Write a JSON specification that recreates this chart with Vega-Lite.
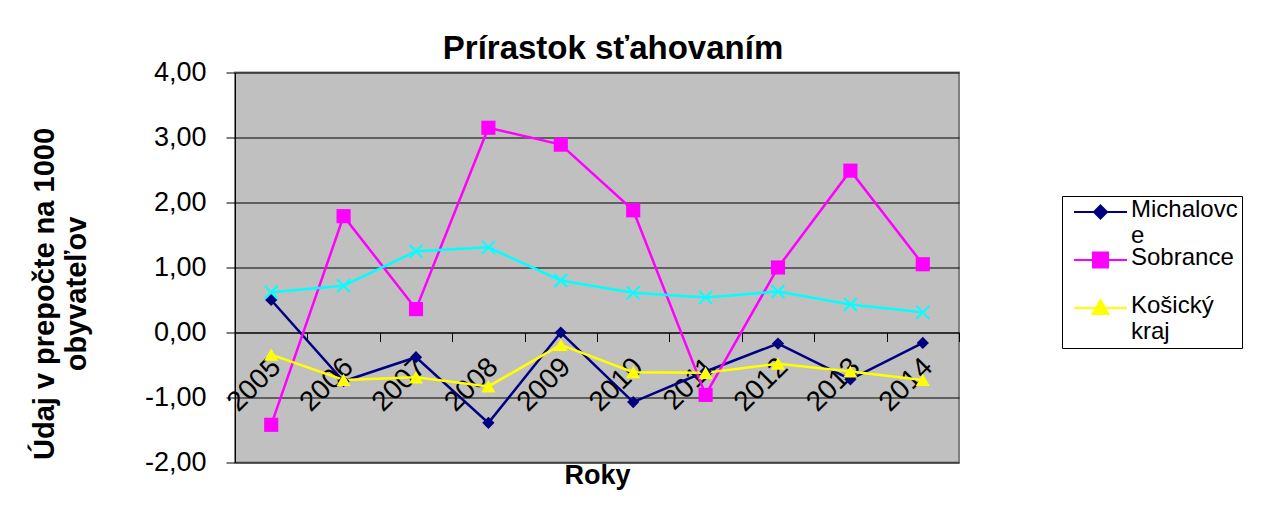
{
  "$schema": "https://vega.github.io/schema/vega-lite/v6.json",
  "width": 724,
  "height": 390,
  "autosize": "none",
  "padding": {"left": 235, "top": 72.5, "right": 307, "bottom": 42.5},
  "background": "white",
  "config": {
    "font": "Liberation Sans",
    "view": {"fill": "#C0C0C0", "stroke": "#808080", "strokeWidth": 2}
  },
  "title": {
    "text": "Prírastok sťahovaním",
    "fontSize": 33,
    "fontWeight": "bold",
    "color": "black",
    "anchor": "middle",
    "baseline": "alphabetic",
    "offset": 13,
    "dx": 16,
    "dy": 46
  },
  "data": {
    "values": [
      {"year": "2005", "series": "Michalovce", "value": 0.50},
      {"year": "2006", "series": "Michalovce", "value": -0.75},
      {"year": "2007", "series": "Michalovce", "value": -0.38},
      {"year": "2008", "series": "Michalovce", "value": -1.39},
      {"year": "2009", "series": "Michalovce", "value": 0.00},
      {"year": "2010", "series": "Michalovce", "value": -1.07},
      {"year": "2011", "series": "Michalovce", "value": -0.60},
      {"year": "2012", "series": "Michalovce", "value": -0.17},
      {"year": "2013", "series": "Michalovce", "value": -0.72},
      {"year": "2014", "series": "Michalovce", "value": -0.16},
      {"year": "2005", "series": "Sobrance", "value": -1.42},
      {"year": "2006", "series": "Sobrance", "value": 1.79},
      {"year": "2007", "series": "Sobrance", "value": 0.36},
      {"year": "2008", "series": "Sobrance", "value": 3.15},
      {"year": "2009", "series": "Sobrance", "value": 2.89},
      {"year": "2010", "series": "Sobrance", "value": 1.88},
      {"year": "2011", "series": "Sobrance", "value": -0.96},
      {"year": "2012", "series": "Sobrance", "value": 1.00},
      {"year": "2013", "series": "Sobrance", "value": 2.49},
      {"year": "2014", "series": "Sobrance", "value": 1.05},
      {"year": "2005", "series": "Košický kraj", "value": -0.34},
      {"year": "2006", "series": "Košický kraj", "value": -0.73},
      {"year": "2007", "series": "Košický kraj", "value": -0.69},
      {"year": "2008", "series": "Košický kraj", "value": -0.83},
      {"year": "2009", "series": "Košický kraj", "value": -0.19},
      {"year": "2010", "series": "Košický kraj", "value": -0.61},
      {"year": "2011", "series": "Košický kraj", "value": -0.62},
      {"year": "2012", "series": "Košický kraj", "value": -0.48},
      {"year": "2013", "series": "Košický kraj", "value": -0.60},
      {"year": "2014", "series": "Košický kraj", "value": -0.73},
      {"year": "2005", "series": "Slovensko", "value": 0.62},
      {"year": "2006", "series": "Slovensko", "value": 0.72},
      {"year": "2007", "series": "Slovensko", "value": 1.25},
      {"year": "2008", "series": "Slovensko", "value": 1.31},
      {"year": "2009", "series": "Slovensko", "value": 0.80},
      {"year": "2010", "series": "Slovensko", "value": 0.61},
      {"year": "2011", "series": "Slovensko", "value": 0.54},
      {"year": "2012", "series": "Slovensko", "value": 0.63},
      {"year": "2013", "series": "Slovensko", "value": 0.43},
      {"year": "2014", "series": "Slovensko", "value": 0.31}
    ]
  },
  "encoding": {
    "x": {
      "field": "year",
      "type": "ordinal",
      "bandPosition": 0.5,
      "scale": {"type": "band", "paddingInner": 0, "paddingOuter": 0},
      "axis": {
        "orient": "bottom",
        "offset": -130,
        "labelAngle": -45,
        "labelAlign": "right",
        "labelBaseline": "middle",
        "labelFontSize": 28,
        "labelColor": "black",
        "labelPadding": 21,
        "labelOffset": 5,
        "labelOverlap": false,
        "tickBand": "extent",
        "tickSize": 9,
        "tickColor": "black",
        "domainColor": "black",
        "domainWidth": 1,
        "grid": false,
        "title": "Roky",
        "titleFontSize": 27,
        "titleFontWeight": "bold",
        "titleColor": "black",
        "titleY": 142.5,
        "titleBaseline": "middle"
      }
    },
    "y": {
      "field": "value",
      "type": "quantitative",
      "scale": {"domain": [-2, 4], "nice": false, "zero": false},
      "axis": {
        "values": [-2, -1, 0, 1, 2, 3, 4],
        "labelExpr": "replace(replace(format(datum.value, '.2f'), '.', ','), '\u2212', '-')",
        "labelFontSize": 27,
        "labelColor": "black",
        "labelPadding": 20,
        "tickSize": 9,
        "tickColor": "black",
        "domainColor": "black",
        "grid": true,
        "gridColor": "black",
        "gridWidth": 1,
        "gridOpacity": 1,
        "title": ["Údaj v prepočte na 1000", "obyvateľov"],
        "titleFontSize": 29,
        "titleFontWeight": "bold",
        "titleColor": "black",
        "titleAngle": -90,
        "titleX": -182,
        "titleY": 221,
        "titleAlign": "center",
        "titleBaseline": "alphabetic",
        "titleLineHeight": 32
      }
    }
  },
  "layer": [
    {
      "mark": {"type": "line", "strokeWidth": 2.5},
      "encoding": {
        "color": {
          "field": "series",
          "type": "nominal",
          "scale": {
            "domain": ["Michalovce", "Sobrance", "Košický kraj", "Slovensko"],
            "range": ["#000080", "#FF00FF", "#FFFF00", "#00FFFF"]
          },
          "legend": {
            "orient": "none",
            "legendX": 827,
            "legendY": 123.5,
            "values": ["Michalovce", "Sobrance", "Košický kraj"],
            "title": null,
            "strokeColor": "black",
            "fillColor": "white",
            "padding": 4,
            "symbolSize": 400,
            "symbolStrokeWidth": 2,
            "labelFontSize": 24,
            "labelColor": "black",
            "labelOffset": 41,
            "labelBaseline": "alphabetic",
            "labelLimit": 300,
            "rowPadding": -2,
            "labelExpr": "datum.label == 'Michalovce' ? ['Michalovc ','e'] : datum.label == 'Sobrance' ? ['Sobrance',' '] : ['Košický','kraj']",
            "encode": {
              "symbols": {
                "update": {
                  "shape": {"signal": "datum.value === 'Michalovce' ? 'M-0.4,0H4.9M2.25,-0.65L2.9,0L2.25,0.65L1.6,0Z' : datum.value === 'Sobrance' ? 'M-0.4,0H4.9M1.5,-0.75H3V0.75H1.5Z' : 'M-0.4,0H4.9M2.25,-0.8L3.05,0.6H1.45Z'"},
                  "fill": {"scale": "color", "field": "value"},
                  "stroke": {"scale": "color", "field": "value"},
                  "strokeWidth": {"value": 2},
                  "opacity": {"value": 1}
                }
              },
              "labels": {
                "update": {
                  "dy": {"value": 5}
                }
              }
            }
          }
        }
      }
    },
    {
      "transform": [{"filter": "datum.series === 'Michalovce'"}],
      "mark": {"type": "point", "shape": "diamond", "filled": true, "opacity": 1, "color": "#000080", "size": 150}
    },
    {
      "transform": [{"filter": "datum.series === 'Sobrance'"}],
      "mark": {"type": "point", "shape": "square", "filled": true, "opacity": 1, "color": "#FF00FF", "size": 200}
    },
    {
      "transform": [{"filter": "datum.series === 'Košický kraj'"}],
      "mark": {"type": "point", "shape": "triangle-up", "filled": true, "opacity": 1, "color": "#FFFF00", "size": 200}
    },
    {
      "transform": [{"filter": "datum.series === 'Slovensko'"}],
      "mark": {"type": "point", "shape": "M-1,-1L1,1M-1,1L1,-1", "filled": false, "opacity": 1, "color": "#00FFFF", "strokeWidth": 2, "size": 169}
    }
  ]
}
